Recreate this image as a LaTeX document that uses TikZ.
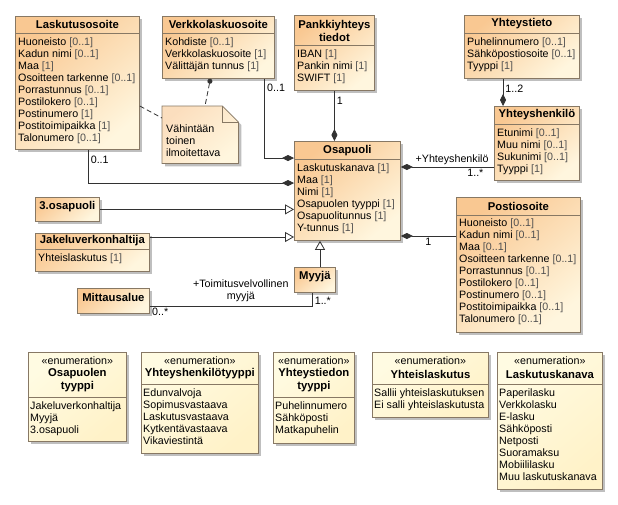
\documentclass[tikz,border=0pt]{standalone}
\usepackage{fontspec}
\setmainfont{Liberation Sans}
\usetikzlibrary{arrows.meta,shadows}

\definecolor{clsTop}{RGB}{249,200,146}
\definecolor{clsBot}{RGB}{255,246,222}
\definecolor{enmTop}{RGB}{255,251,226}
\definecolor{enmBot}{RGB}{255,242,200}
\definecolor{boxLine}{RGB}{135,120,100}
\definecolor{multGray}{RGB}{80,80,80}
\definecolor{linkLine}{RGB}{50,50,50}

\newcommand{\mlt}[1]{\textcolor{multGray}{[#1]}}

\tikzset{
  umlbox/.style={draw=boxLine, line width=0.8pt, anchor=north west, inner sep=0pt,
    drop shadow={shadow xshift=3pt,shadow yshift=-3pt,fill=black!45,opacity=0.55}},
  clsbox/.style={umlbox, top color=clsTop, bottom color=clsBot, shading angle=40},
  enumbox/.style={umlbox, top color=enmTop, bottom color=enmBot, shading angle=40},
  clstitle/.style={font=\fontsize{11.3}{13}\selectfont\bfseries, align=center, inner sep=0pt},
  stereo/.style={font=\fontsize{10.7}{12}\selectfont, inner sep=0pt},
  clsbody/.style={font=\fontsize{10.7}{12}\selectfont, align=left, anchor=north west, inner sep=0pt},
  sepline/.style={draw=boxLine, line width=0.8pt},
  multlabel/.style={font=\fontsize{10.7}{12}\selectfont, inner sep=2pt},
  compline/.style={draw=linkLine, line width=0.8pt, -{Diamond[length=12pt,width=6pt]}},
  genline/.style={draw=linkLine, line width=0.8pt, -{Triangle[open,length=9pt,width=10pt,fill=white]}},
  assocline/.style={draw=linkLine, line width=0.8pt},
  noteline/.style={draw=linkLine, line width=0.8pt, dash pattern=on 5pt off 3pt},
  noteshape/.style={draw=boxLine, line width=0.8pt, top color=clsTop!60!white, bottom color=clsBot, shading angle=40,
    drop shadow={shadow xshift=3pt,shadow yshift=-3pt,fill=black!45,opacity=0.55}}
}

\begin{document}
\begin{tikzpicture}[x=1pt,y=-1pt]
\path[use as bounding box, fill=white] (0,0) rectangle (618,504);

% Laskutusosoite
\node[clsbox, minimum width=124, minimum height=133] (lasku) at (15,16) {};
\node[clstitle] at ([yshift=-8.5pt]lasku.north) {Laskutusosoite};
\draw[sepline] ([yshift=-17pt]lasku.north west) -- ([yshift=-17pt]lasku.north east);
\node[clsbody] at ([xshift=3pt,yshift=-22pt]lasku.north west) {Huoneisto \mlt{0..1}\\Kadun nimi \mlt{0..1}\\Maa \mlt{1}\\Osoitteen tarkenne \mlt{0..1}\\Porrastunnus \mlt{0..1}\\Postilokero \mlt{0..1}\\Postinumero \mlt{1}\\Postitoimipaikka \mlt{1}\\Talonumero \mlt{0..1}};

% Verkkolaskuosoite
\node[clsbox, minimum width=112, minimum height=62] (verkko) at (162,16) {};
\node[clstitle] at ([yshift=-8.5pt]verkko.north) {Verkkolaskuosoite};
\draw[sepline] ([yshift=-17pt]verkko.north west) -- ([yshift=-17pt]verkko.north east);
\node[clsbody] at ([xshift=3pt,yshift=-22pt]verkko.north west) {Kohdiste \mlt{0..1}\\Verkkolaskuosoite \mlt{1}\\Välittäjän tunnus \mlt{1}};

% Pankkiyhteystiedot
\node[clsbox, minimum width=80, minimum height=75] (pankki) at (294,15) {};
\node[clstitle] at ([yshift=-15.5pt]pankki.north) {Pankkiyhteys\\tiedot};
\draw[sepline] ([yshift=-30pt]pankki.north west) -- ([yshift=-30pt]pankki.north east);
\node[clsbody] at ([xshift=3pt,yshift=-35pt]pankki.north west) {IBAN \mlt{1}\\Pankin nimi \mlt{1}\\SWIFT \mlt{1}};

% Yhteystieto
\node[clsbox, minimum width=115, minimum height=63] (yhtieto) at (464,15) {};
\node[clstitle] at ([yshift=-9pt]yhtieto.north) {Yhteystieto};
\draw[sepline] ([yshift=-18pt]yhtieto.north west) -- ([yshift=-18pt]yhtieto.north east);
\node[clsbody] at ([xshift=3pt,yshift=-23pt]yhtieto.north west) {Puhelinnumero \mlt{0..1}\\Sähköpostiosoite \mlt{0..1}\\Tyyppi \mlt{1}};

% Yhteyshenkilo
\node[clsbox, minimum width=85, minimum height=74] (yhenk) at (494,106) {};
\node[clstitle] at ([yshift=-9pt]yhenk.north) {Yhteyshenkilö};
\draw[sepline] ([yshift=-18pt]yhenk.north west) -- ([yshift=-18pt]yhenk.north east);
\node[clsbody] at ([xshift=3pt,yshift=-23pt]yhenk.north west) {Etunimi \mlt{0..1}\\Muu nimi \mlt{0..1}\\Sukunimi \mlt{0..1}\\Tyyppi \mlt{1}};

% Osapuoli
\node[clsbox, minimum width=106, minimum height=99] (osapuoli) at (294,141) {};
\node[clstitle] at ([yshift=-9.5pt]osapuoli.north) {Osapuoli};
\draw[sepline] ([yshift=-18pt]osapuoli.north west) -- ([yshift=-18pt]osapuoli.north east);
\node[clsbody] at ([xshift=3pt,yshift=-23pt]osapuoli.north west) {Laskutuskanava \mlt{1}\\Maa \mlt{1}\\Nimi \mlt{1}\\Osapuolen tyyppi \mlt{1}\\Osapuolitunnus \mlt{1}\\Y-tunnus \mlt{1}};

% Postiosoite
\node[clsbox, minimum width=124, minimum height=135] (posti) at (456,197) {};
\node[clstitle] at ([yshift=-9pt]posti.north) {Postiosoite};
\draw[sepline] ([yshift=-18pt]posti.north west) -- ([yshift=-18pt]posti.north east);
\node[clsbody] at ([xshift=3pt,yshift=-22pt]posti.north west) {Huoneisto \mlt{0..1}\\Kadun nimi \mlt{0..1}\\Maa \mlt{0..1}\\Osoitteen tarkenne \mlt{0..1}\\Porrastunnus \mlt{0..1}\\Postilokero \mlt{0..1}\\Postinumero \mlt{0..1}\\Postitoimipaikka \mlt{0..1}\\Talonumero \mlt{0..1}};

% 3.osapuoli, Jakeluverkonhaltija, Myyja, Mittausalue
\node[clsbox, minimum width=64, minimum height=24] (kolmas) at (35,197) {};
\node[clstitle] at ([yshift=-10pt]kolmas.north) {3.osapuoli};
\node[clsbox, minimum width=114, minimum height=38] (jakelu) at (35,233) {};
\node[clstitle] at ([yshift=-8pt]jakelu.north) {Jakeluverkonhaltija};
\draw[sepline] ([yshift=-16pt]jakelu.north west) -- ([yshift=-16pt]jakelu.north east);
\node[clsbody] at ([xshift=3pt,yshift=-21pt]jakelu.north west) {Yhteislaskutus \mlt{1}};
\node[clsbox, minimum width=41, minimum height=25] (myyja) at (294,267) {};
\node[clstitle] at ([yshift=-10pt]myyja.north) {Myyjä};
\node[clsbox, minimum width=72, minimum height=25] (mitta) at (77,288) {};
\node[clstitle] at ([yshift=-9.5pt]mitta.north) {Mittausalue};

% note
\node[anchor=north west, minimum width=76, minimum height=57, inner sep=0pt] (note) at (162,106) {};
\draw[noteshape] (note.north west) -- ([xshift=-16pt]note.north east) -- ([yshift=-16pt]note.north east)
  -- (note.south east) -- (note.south west) -- cycle;
\draw[sepline] ([xshift=-16pt]note.north east) |- ([yshift=-16pt]note.north east);
\node[clsbody] at ([xshift=4pt,yshift=-19pt]note.north west) {Vähintään\\toinen\\ilmoitettava};

% enumerations
\node[enumbox, minimum width=98, minimum height=89] (optyyppi) at (28,352) {};
\node[stereo] at ([yshift=-9pt]optyyppi.north) {«enumeration»};
\node[clstitle] at ([yshift=-28.5pt]optyyppi.north) {Osapuolen\\tyyppi};
\draw[sepline] ([yshift=-45pt]optyyppi.north west) -- ([yshift=-45pt]optyyppi.north east);
\node[clsbody] at ([xshift=2pt,yshift=-50pt]optyyppi.north west) {Jakeluverkonhaltija\\Myyjä\\3.osapuoli};

\node[enumbox, minimum width=117, minimum height=101] (yhtyyppi) at (141,352) {};
\node[stereo] at ([yshift=-9pt]yhtyyppi.north) {«enumeration»};
\node[clstitle] at ([yshift=-22pt]yhtyyppi.north) {Yhteyshenkilötyyppi};
\draw[sepline] ([yshift=-32pt]yhtyyppi.north west) -- ([yshift=-32pt]yhtyyppi.north east);
\node[clsbody] at ([xshift=2pt,yshift=-37pt]yhtyyppi.north west) {Edunvalvoja\\Sopimusvastaava\\Laskutusvastaava\\Kytkentävastaava\\Vikaviestintä};

\node[enumbox, minimum width=81, minimum height=91] (ytdtyyppi) at (273,352) {};
\node[stereo] at ([yshift=-9pt]ytdtyyppi.north) {«enumeration»};
\node[clstitle] at ([yshift=-28.5pt]ytdtyyppi.north) {Yhteystiedon\\tyyppi};
\draw[sepline] ([yshift=-45pt]ytdtyyppi.north west) -- ([yshift=-45pt]ytdtyyppi.north east);
\node[clsbody] at ([xshift=2pt,yshift=-50pt]ytdtyyppi.north west) {Puhelinnumero\\Sähköposti\\Matkapuhelin};

\node[enumbox, minimum width=116, minimum height=65] (yhteisl) at (372,352) {};
\node[stereo] at ([yshift=-9pt]yhteisl.north) {«enumeration»};
\node[clstitle] at ([yshift=-22pt]yhteisl.north) {Yhteislaskutus};
\draw[sepline] ([yshift=-32pt]yhteisl.north west) -- ([yshift=-32pt]yhteisl.north east);
\node[clsbody] at ([xshift=2pt,yshift=-37pt]yhteisl.north west) {Sallii yhteislaskutuksen\\Ei salli yhteislaskutusta};

\node[enumbox, minimum width=105, minimum height=137] (lkanava) at (497,352) {};
\node[stereo] at ([yshift=-9pt]lkanava.north) {«enumeration»};
\node[clstitle] at ([yshift=-22pt]lkanava.north) {Laskutuskanava};
\draw[sepline] ([yshift=-32pt]lkanava.north west) -- ([yshift=-32pt]lkanava.north east);
\node[clsbody] at ([xshift=2pt,yshift=-37pt]lkanava.north west) {Paperilasku\\Verkkolasku\\E-lasku\\Sähköposti\\Netposti\\Suoramaksu\\Mobiililasku\\Muu laskutuskanava};

% connectors
\coordinate (yhlink) at ([xshift=9pt]yhenk.north west);
\coordinate (hlink) at ([yshift=-26pt]osapuoli.north east);
\coordinate (plink) at ([yshift=-95pt]osapuoli.north east);
\coordinate (jlink) at ([yshift=-4pt]jakelu.north east);
\coordinate (mlink) at ([xshift=26pt]osapuoli.south west);

\draw[compline] ([xshift=-10pt]verkko.south east) |- ([yshift=-17pt]osapuoli.north west)
  node[multlabel, right, pos=0.06] {0..1};
\draw[compline] ([xshift=11pt]lasku.south) |- ([yshift=-42pt]osapuoli.north west)
  node[multlabel, right, pos=0.15] {0..1};
\draw[compline] (pankki.south) -- (pankki.south |- osapuoli.north)
  node[multlabel, right, pos=0.2] {1};
\draw[compline] (yhtieto.south -| yhlink) -- (yhlink)
  node[multlabel, right, pos=0.36] {1..2};
\draw[compline] (yhenk.west |- hlink) -- (hlink)
  node[multlabel, above, pos=0.45] {+Yhteyshenkilö}
  node[multlabel, below, pos=0.2] {1..*};
\draw[compline] (posti.west |- plink) -- (plink)
  node[multlabel, below, pos=0.5] {1};
\draw[genline] (kolmas.east) -- (kolmas.east -| osapuoli.west);
\draw[genline] (jlink) -- (jlink -| osapuoli.west);
\draw[genline] (myyja.north -| mlink) -- (mlink);
\draw[assocline] ([yshift=-5pt]mitta.east) -| ([xshift=-2.5pt]myyja.south)
  node[multlabel, above=2pt, pos=0.28, align=center] {+Toimitusvelvollinen\\myyjä}
  node[multlabel, below right, pos=0] {0..*}
  node[multlabel, right, pos=0.7] {1..*};
\draw[noteline, {Circle[length=5pt]}-] ([xshift=-8pt]verkko.south) -- ([xshift=43pt]note.north west);
\draw[noteline] ([yshift=-90pt]lasku.north east) -- ([yshift=-12pt]note.north west);
\end{tikzpicture}
\end{document}
